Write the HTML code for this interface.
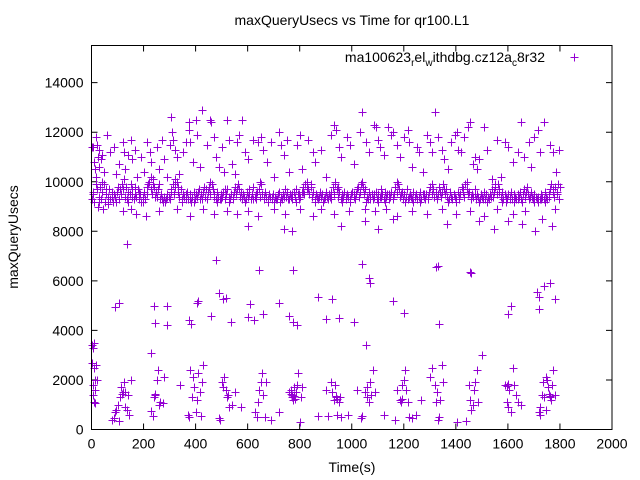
<!DOCTYPE html>
<html><head><meta charset="utf-8"><style>
html,body{margin:0;padding:0;background:#fff}
svg{display:block;font-family:"Liberation Sans",sans-serif}
</style></head><body>
<svg id="chart" width="640" height="480" viewBox="0 0 640 480" xmlns="http://www.w3.org/2000/svg">
<rect width="640" height="480" fill="#fff"/>
<text x="352" y="25" text-anchor="middle" font-size="14" fill="#000">maxQueryUsecs vs Time for qr100.L1</text>
<text x="352" y="472" text-anchor="middle" font-size="14" fill="#000">Time(s)</text>
<text transform="translate(18,237) rotate(-90)" text-anchor="middle" font-size="14" fill="#000">maxQueryUsecs</text>
<g id="ticks"></g>
<g id="marks"></g>
<rect x="91.5" y="45.5" width="520.5" height="384" fill="none" stroke="#000" stroke-width="1"/>
<g>
<text x="545" y="62" text-anchor="end" font-size="14" fill="#000">ma100623<tspan font-size="10" dy="4">r</tspan><tspan dy="-4">el</tspan><tspan font-size="10" dy="4">w</tspan><tspan dy="-4">ithdbg.cz12a</tspan><tspan font-size="10" dy="4">c</tspan><tspan dy="-4">8r32</tspan></text>
<path d="M570.5 57.5h8M574.5 53.5v8" stroke="#9400d3" stroke-width="1"/>
</g>
</svg>
<script>
const xTicks=[0,200,400,600,800,1000,1200,1400,1600,1800,2000];
const yTicks=[0,2000,4000,6000,8000,10000,12000,14000];
const bandPoints=[[2,9300],[6,9500],[10,9200],[14,10500],[18,10200],[22,9700],[27,9400],[32,9800],[37,9300],[42,9600],[47,9900],[52,9200],[57,9500],[62,9400],[67,9700],[72,9300],[77,9600],[82,9200],[87,9500],[92,9400],[97,9600],[102,9800],[107,9300],[112,9500],[117,9900],[122,9700],[127,9400],[132,9800],[137,9300],[142,9600],[147,9500],[152,9900],[157,9700],[162,9300],[167,9500],[172,9400],[177,9700],[182,9300],[187,9500],[192,9200],[197,9400],[202,9600],[207,9300],[212,9800],[217,9900],[222,10000],[227,9700],[232,9500],[237,9900],[242,9800],[247,9600],[252,9400],[257,9700],[262,9300],[267,9500],[272,9300],[277,9400],[282,9200],[287,9300],[292,9500],[297,9400],[302,9300],[307,9700],[312,9900],[317,9500],[322,9800],[327,10000],[332,9600],[337,9400],[342,9700],[347,9300],[352,9500],[357,9400],[362,9300],[367,9600],[372,9300],[377,9500],[382,9200],[387,9400],[392,9600],[397,9300],[402,9500],[407,9400],[412,9700],[417,9300],[422,9500],[427,9600],[432,9800],[437,9400],[442,9300],[447,9600],[452,9800],[457,9500],[462,9900],[467,9700],[472,9400],[477,9300],[482,9600],[487,9400],[492,9300],[497,9500],[502,9400],[507,9600],[512,9300],[517,9500],[522,9700],[527,9400],[532,9300],[537,9500],[542,9400],[547,9600],[552,9800],[557,9500],[562,9900],[567,9700],[572,9400],[577,9300],[582,9500],[587,9400],[592,9300],[597,9600],[602,9400],[607,9700],[612,9300],[617,9500],[622,9800],[627,9400],[632,9300],[637,9600],[642,9700],[647,9400],[652,9900],[657,9500],[662,9300],[667,9600],[672,9400],[677,9300],[682,9500],[687,9400],[692,9300],[697,9500],[702,9200],[707,9400],[712,9300],[717,9500],[722,9600],[727,9400],[732,9300],[737,9500],[742,9700],[747,9400],[752,9600],[757,9300],[762,9500],[767,9400],[772,9300],[777,9600],[782,9400],[787,9700],[792,9500],[797,9300],[802,9400],[807,9600],[812,9800],[817,9500],[822,9900],[827,10000],[832,9700],[837,9500],[842,9800],[847,9400],[852,9600],[857,9300],[862,9500],[867,9400],[872,9300],[877,9600],[882,9400],[887,9500],[892,9300],[897,9400],[902,9600],[907,9300],[912,9500],[917,9400],[922,9600],[927,9800],[932,9500],[937,9900],[942,9700],[947,9400],[952,9600],[957,9300],[962,9500],[967,9400],[972,9600],[977,9300],[982,9500],[987,9400],[992,9300],[997,9500],[1002,9600],[1007,9400],[1012,9300],[1017,9500],[1022,9700],[1027,9400],[1032,9600],[1037,9900],[1042,9800],[1047,9500],[1052,9700],[1057,9400],[1062,9300],[1067,9600],[1072,9400],[1077,9500],[1082,9300],[1087,9400],[1092,9600],[1097,9300],[1102,9500],[1107,9400],[1112,9700],[1117,9500],[1122,9300],[1127,9600],[1132,9400],[1137,9500],[1142,9300],[1147,9400],[1152,9600],[1157,9300],[1162,9500],[1167,9800],[1172,9600],[1177,9900],[1182,9700],[1187,9400],[1192,9600],[1197,9300],[1202,9500],[1207,9400],[1212,9700],[1217,9300],[1222,9500],[1227,9400],[1232,9300],[1237,9600],[1242,9400],[1247,9500],[1252,9300],[1257,9400],[1262,9600],[1267,9300],[1272,9500],[1277,9400],[1282,9300],[1287,9500],[1292,9400],[1297,9600],[1302,9800],[1307,9500],[1312,9700],[1317,9400],[1322,9600],[1327,9300],[1332,9500],[1337,9800],[1342,9400],[1347,9600],[1352,9900],[1357,9500],[1362,9700],[1367,9400],[1372,9300],[1377,9600],[1382,9400],[1387,9300],[1392,9500],[1397,9400],[1402,9300],[1407,9600],[1412,9400],[1417,9500],[1422,9800],[1427,9600],[1432,9400],[1437,9900],[1442,9700],[1447,9500],[1452,9600],[1457,9300],[1462,9500],[1467,9400],[1472,9700],[1477,9300],[1482,9500],[1487,9400],[1492,9300],[1497,9500],[1502,9400],[1507,9600],[1512,9300],[1517,9500],[1522,9400],[1527,9300],[1532,9500],[1537,9700],[1542,9400],[1547,9600],[1552,9800],[1557,9500],[1562,9900],[1567,9700],[1572,9400],[1577,9600],[1582,9300],[1587,9500],[1592,9400],[1597,9300],[1602,9500],[1607,9400],[1612,9600],[1617,9300],[1622,9500],[1627,9400],[1632,9300],[1637,9500],[1642,9400],[1647,9600],[1652,9300],[1657,9500],[1662,9700],[1667,9400],[1672,9800],[1677,9500],[1682,9300],[1687,9600],[1692,9400],[1697,9300],[1702,9500],[1707,9400],[1712,9300],[1717,9400],[1722,9300],[1727,9500],[1732,9400],[1737,9300],[1742,9600],[1747,9400],[1752,9300],[1757,9500],[1762,9700],[1767,9900],[1772,9600],[1777,9400],[1782,9800],[1787,9500],[1792,9900],[1797,9300],[25,9000],[45,8900],[120,8800],[150,8900],[170,8700],[210,8600],[260,8800],[330,8900],[380,8600],[430,8900],[470,8700],[520,8800],[560,8700],[600,8800],[640,8600],[700,8900],[745,8700],[800,8900],[850,8600],[880,8900],[930,8700],[990,8800],[1050,8900],[1090,8800],[1130,8900],[1175,8600],[1230,8800],[1290,8700],[1345,8900],[1400,8700],[1455,8800],[1510,8600],[1560,8900],[1620,8700],[1665,8800],[1730,8500],[1780,8900],[135,7500],[600,8200],[770,8000],[740,8100],[960,8200],[1050,8400],[1100,8100],[1160,8500],[1365,8300],[1490,8400],[1545,8100],[1655,8300],[1705,8000],[1770,8200],[1600,8400]];
const bandPoints2=[[4,9600],[16,9900],[29,9200],[39,10000],[54,9700],[64,9100],[79,9400],[94,9200],[109,9700],[124,10100],[139,9200],[154,9400],[169,9800],[184,9600],[199,9200],[214,9500],[229,10200],[244,9400],[259,9900],[274,9200],[289,9400],[304,9600],[319,10100],[334,9800],[349,9200],[364,9500],[379,9300],[394,9200],[409,9600],[424,9300],[439,9700],[454,10000],[469,9500],[484,9200],[499,9300],[514,9700],[529,9200],[544,9300],[559,9700],[574,9600],[589,9200],[604,9500],[619,9300],[634,9500],[649,10000],[664,9400],[679,9200],[694,9400],[709,9300],[724,9200],[739,9400],[754,9300],[769,9500],[784,9200],[799,9500],[814,9600],[829,9700],[844,9900],[859,9200],[874,9400],[889,9200],[904,9400],[919,9300],[934,10000],[949,9800],[964,9200],[979,9400],[994,9200],[1009,9500],[1024,9800],[1039,10000],[1054,9200],[1069,9300],[1084,9500],[1099,9200],[1114,9400],[1129,9200],[1144,9500],[1159,9400],[1174,10000],[1189,9500],[1204,9200],[1219,9400],[1234,9200],[1249,9300],[1264,9200],[1279,9500],[1294,9300],[1309,9900],[1324,9500],[1339,9600],[1354,9700],[1369,9200],[1384,9300],[1399,9200],[1414,9300],[1429,9700],[1444,10000],[1459,9400],[1474,9500],[1489,9200],[1504,9300],[1519,9200],[1534,9400],[1549,9900],[1564,9600],[1579,9200],[1594,9200],[1609,9300],[1624,9200],[1639,9300],[1654,9200],[1669,9600],[1684,9400],[1699,9200],[1714,9200],[1729,9300],[1744,9200],[1759,9400],[1774,9700],[1789,9600],[1799,9800]];
const highPoints=[[5,11400],[10,10800],[13,10500],[18,11800],[22,11500],[25,11000],[28,10600],[30,11300],[35,10900],[40,11100],[48,10400],[60,11900],[70,11200],[85,11400],[95,10300],[105,10700],[120,11600],[125,11200],[130,10500],[140,11100],[150,11700],[155,10900],[168,11300],[175,10200],[190,11000],[200,10400],[215,11600],[225,11200],[230,10800],[238,10100],[250,11400],[260,10500],[270,11700],[280,10900],[290,10200],[300,11500],[305,12600],[310,12000],[315,11700],[320,11300],[328,11000],[338,10300],[350,11200],[365,11600],[373,12100],[375,12400],[380,11600],[390,10800],[400,12500],[405,11900],[418,10600],[425,12900],[445,11500],[455,12500],[460,12400],[470,11800],[480,11000],[490,10600],[500,11400],[510,10400],[520,12500],[530,11700],[540,10700],[550,10300],[560,11600],[565,11900],[580,12500],[590,11200],[600,10900],[620,11700],[640,11600],[650,11800],[660,11300],[675,10800],[690,11600],[700,10200],[720,12000],[730,11500],[740,11100],[750,11700],[760,10400],[790,11500],[800,11900],[810,10500],[830,11700],[850,11200],[860,10800],[880,11300],[900,10200],[920,11900],[930,12300],[940,12100],[950,11400],[960,11000],[980,11800],[995,11500],[1010,10700],[1030,12000],[1040,12800],[1055,11600],[1065,11200],[1085,12300],[1095,12200],[1100,11700],[1110,11400],[1125,11100],[1140,12200],[1150,11900],[1160,12000],[1175,11500],[1185,11000],[1200,11800],[1215,12100],[1220,11600],[1230,10600],[1250,11400],[1260,11200],[1275,10400],[1290,11900],[1300,11600],[1310,11200],[1318,12800],[1330,11800],[1345,11300],[1355,10900],[1370,10500],[1380,11600],[1395,11900],[1405,12000],[1410,11300],[1420,11200],[1430,11800],[1445,12200],[1455,12400],[1465,10700],[1475,11000],[1480,10500],[1490,10900],[1510,12200],[1520,11300],[1540,10100],[1560,11700],[1575,10200],[1590,11600],[1600,11400],[1620,10800],[1640,11200],[1650,12400],[1660,11000],[1680,11600],[1690,10600],[1700,11800],[1715,12100],[1725,11200],[1740,12400],[1760,11500],[1775,11200],[1785,10400],[1795,11300],[0,11400]];
const midPoints=[[480,6850],[645,6450],[775,6450],[1040,6700],[1065,6100],[1070,5900],[1325,6550],[1330,6600],[1455,6350],[1460,6300],[90,4950],[105,5100],[240,5000],[245,4300],[290,4200],[292,5000],[375,4400],[382,4250],[405,5100],[410,5200],[460,4600],[490,5500],[505,5250],[515,5300],[535,4350],[600,4550],[610,5050],[625,4400],[660,4650],[720,5100],[760,4600],[775,4350],[790,4200],[870,5350],[900,4450],[925,5250],[950,4500],[1010,4350],[1160,5200],[1200,4700],[1335,4250],[1600,4650],[1610,5000],[1710,5550],[1720,5350],[1740,5800],[1760,5900],[1780,5250],[1720,4850],[1055,3400],[1500,3000],[230,3100]];
const lowPoints=[[0,3400],[5,3300],[10,3500],[3,2700],[8,2500],[12,2000],[4,1800],[15,1600],[6,1400],[10,1100],[15,1050],[20,2000],[18,2600],[80,400],[85,450],[90,700],[95,800],[100,1000],[105,350],[110,1300],[115,1700],[120,1500],[125,1900],[130,900],[135,800],[140,1400],[145,600],[150,2000],[230,750],[235,550],[240,1300],[245,1400],[250,2000],[255,2400],[260,1000],[265,1100],[275,1050],[280,2100],[340,1800],[370,600],[375,500],[380,2400],[385,1300],[390,2100],[395,1700],[400,700],[405,1200],[410,2300],[415,1500],[420,550],[425,1900],[430,2600],[490,450],[495,400],[500,1900],[505,1700],[510,2100],[515,1600],[520,1300],[525,1400],[530,900],[540,1000],[550,1500],[575,900],[630,700],[635,500],[640,1100],[645,1600],[650,1900],[655,2300],[660,1400],[665,500],[670,1900],[690,400],[720,700],[760,1500],[765,1600],[770,1400],[775,1200],[780,1700],[785,1500],[790,1800],[795,2300],[800,300],[805,1300],[810,1700],[870,550],[900,1600],[910,550],[920,1900],[925,1500],[930,1200],[935,1800],[940,1300],[945,600],[950,1100],[955,1300],[960,500],[985,600],[1020,1600],[1035,450],[1040,550],[1050,1500],[1060,1700],[1070,1900],[1075,1400],[1080,2400],[1090,1500],[1125,600],[1165,400],[1175,1600],[1185,1200],[1190,1100],[1195,1800],[1200,2000],[1205,2400],[1210,1600],[1215,1100],[1220,500],[1230,450],[1245,600],[1265,1200],[1300,2100],[1310,2500],[1320,1800],[1325,1100],[1330,400],[1335,500],[1340,1200],[1345,2600],[1350,1900],[1405,300],[1440,350],[1450,1800],[1455,1200],[1460,800],[1465,1000],[1470,1600],[1475,1900],[1480,2400],[1485,1100],[1590,1800],[1595,1100],[1600,900],[1605,1600],[1610,700],[1620,2500],[1625,1800],[1630,1400],[1640,1100],[1650,1000],[1720,700],[1722,900],[1725,600],[1730,1400],[1735,1900],[1740,1300],[1745,800],[1750,2000],[1755,1700],[1760,1300],[1765,1200],[1770,1800],[1775,2400],[1780,1400],[1745,2100],[772,1300],[778,1350],[782,1250],[768,1450],[117,1450],[128,1500],[244,1450],[938,1350],[942,1250],[1192,1250],[1762,1350],[1758,1450],[1598,1750],[1602,1850],[1326,1500],[1060,1300],[1066,1100]];

const X0=91.5,X1=612,Y0=429.5,Y1=45.5,XMAX=2000,YMAX=15500;
function xs(t){return X0+t/XMAX*(X1-X0);}
function ys(v){return Y0-v/YMAX*(Y0-Y1);}
const NS="http://www.w3.org/2000/svg";
const tg=document.getElementById('ticks');
xTicks.forEach(function(t){
  const x=xs(t);
  const p=document.createElementNS(NS,'path');
  p.setAttribute('d','M'+x+' '+Y0+'v-6M'+x+' '+Y1+'v6');
  p.setAttribute('stroke','#000');
  
  
  tg.appendChild(p);
  const tx=document.createElementNS(NS,'text');
  tx.setAttribute('x',x);tx.setAttribute('y',Y0+19);
  tx.setAttribute('text-anchor','middle');tx.setAttribute('font-size','14');
  tx.textContent=t;
  
  
  tg.appendChild(tx);
});
yTicks.forEach(function(v){
  const y=ys(v);
  const p=document.createElementNS(NS,'path');
  p.setAttribute('d','M'+X0+' '+y+'h6M'+X1+' '+y+'h-6');
  p.setAttribute('stroke','#000');
  
  
  tg.appendChild(p);
  const tx=document.createElementNS(NS,'text');
  tx.setAttribute('x',X0-8);tx.setAttribute('y',y+5);
  tx.setAttribute('text-anchor','end');tx.setAttribute('font-size','14');
  tx.textContent=v;
  
  
  tg.appendChild(tx);
});
const mg=document.getElementById('marks');
let d='';
[bandPoints,bandPoints2,highPoints,midPoints,lowPoints].forEach(function(arr){
  arr.forEach(function(pt){
    const x=Math.round(xs(pt[0]))+0.5,y=Math.round(ys(pt[1]))+0.5;
    d+='M'+(x-4)+' '+y+'h8M'+x+' '+(y-4)+'v8';
  });
});
const path=document.createElementNS(NS,'path');
path.setAttribute('d',d);
path.setAttribute('stroke','#9400d3');
path.setAttribute('stroke-width','1');
path.setAttribute('fill','none');


mg.appendChild(path);
</script>
</body></html>
